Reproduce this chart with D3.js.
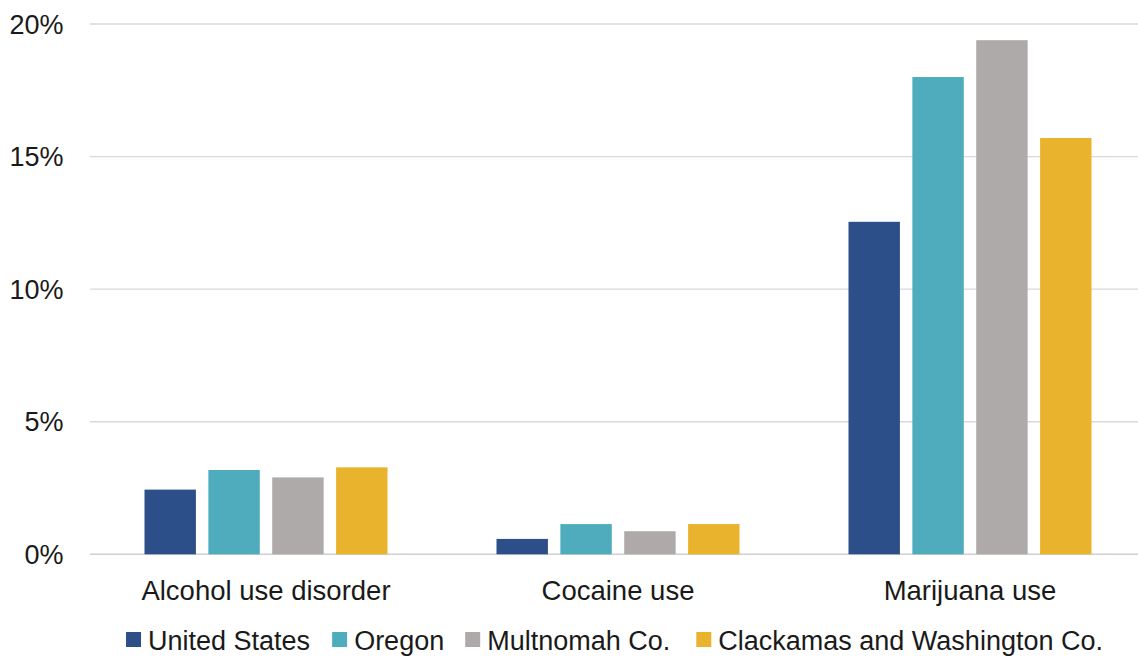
<!DOCTYPE html>
<html>
<head>
<meta charset="utf-8">
<script src="https://cdn.jsdelivr.net/npm/d3@7"></script>
<style>
  html, body { margin: 0; padding: 0; background: #fff; }
  svg text { font-family: "Liberation Sans", Arial, sans-serif; fill: #1a1a1a; }
</style>
</head>
<body>
<svg id="chart" width="1138" height="658"></svg>
<script>
// Substance use rates by area
const categories = ["Alcohol use disorder", "Cocaine use", "Marijuana use"];
const seriesNames = ["United States", "Oregon", "Multnomah Co.", "Clackamas and Washington Co."];
const seriesColors = ["#2C4F89", "#4EACBD", "#AEAAA9", "#E9B32E"];
const unitedStates = [2.44, 0.58, 12.54];
const oregon = [3.18, 1.14, 18.0];
const multnomah = [2.90, 0.87, 19.39];
const clackamasWashington = [3.28, 1.14, 15.70];
const yTicks = [0, 5, 10, 15, 20];

const seriesValues = [unitedStates, oregon, multnomah, clackamasWashington];

const W = 1138, H = 658;
const margin = { left: 90, right: -8, top: 24, bottom: 104 };
const svg = d3.select("#chart");

const y = d3.scaleLinear().domain([0, 20]).range([554.3, 24]);
const x0 = d3.scaleBand().domain(categories).range([margin.left, W - margin.right]).padding(0);
const groupPad = 54.5;
const x1 = d3.scaleBand().domain(seriesNames)
  .range([groupPad, x0.bandwidth() - groupPad])
  .paddingInner(0.195).paddingOuter(0);

// gridlines
svg.append("g").selectAll("line").data(yTicks).join("line")
  .attr("x1", margin.left).attr("x2", W)
  .attr("y1", d => y(d)).attr("y2", d => y(d))
  .attr("stroke", d => d === 0 ? "#d0d0d0" : "#d9d9d9")
  .attr("stroke-width", d => d === 0 ? 1.5 : 1.3);

// y axis labels
svg.append("g").selectAll("text").data(yTicks).join("text")
  .attr("x", 63.5).attr("y", d => y(d))
  .attr("dy", "0.36em")
  .attr("text-anchor", "end")
  .attr("font-size", 27)
  .text(d => d + "%");

// bars
const groups = svg.append("g").selectAll("g").data(categories).join("g")
  .attr("transform", d => `translate(${x0(d)},0)`);

groups.selectAll("rect")
  .data((c, ci) => seriesNames.map((s, si) => ({ s, si, v: seriesValues[si][ci] })))
  .join("rect")
  .attr("x", d => x1(d.s))
  .attr("width", x1.bandwidth())
  .attr("y", d => y(d.v))
  .attr("height", d => y(0) - y(d.v))
  .attr("fill", d => seriesColors[d.si]);

// category labels
svg.append("g").selectAll("text").data(categories).join("text")
  .attr("x", d => x0(d) + x0.bandwidth() / 2)
  .attr("y", 600)
  .attr("text-anchor", "middle")
  .attr("font-size", 27.5)
  .text(d => d);

// legend
const legend = svg.append("g");
let cursor = 0;
const gaps = [22, 21, 26];
seriesNames.forEach((name, i) => {
  const item = legend.append("g").attr("transform", `translate(${cursor},0)`);
  item.append("rect").attr("x", 0).attr("y", 632).attr("width", 15).attr("height", 15)
    .attr("fill", seriesColors[i]);
  const t = item.append("text").attr("x", 22).attr("y", 650)
    .attr("font-size", 27).text(name);
  cursor += 22 + t.node().getComputedTextLength() + (gaps[i] || 0);
});
const legendWidth = cursor;
legend.attr("transform", `translate(${614.5 - legendWidth / 2},0)`);
</script>
</body>
</html>
